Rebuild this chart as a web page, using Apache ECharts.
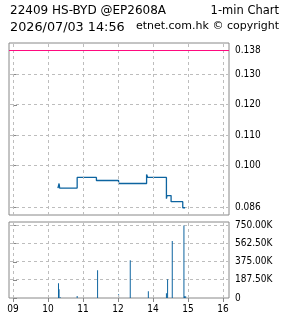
<!DOCTYPE html>
<html><head><meta charset="utf-8">
<script src="https://cdn.jsdelivr.net/npm/echarts@6/dist/echarts.min.js"></script>
<style>html,body{margin:0;padding:0;background:#fff}#c{width:285px;height:318px}</style>
</head><body><div id="c"></div>
<script>
// ---- data ----
var priceTimes  = ['10:17','10:19','10:20','10:50','11:23','13:01','13:49','13:51','14:23','14:24','14:31','14:51','14:55'];
var priceValues = [0.0925, 0.094, 0.0925, 0.096, 0.095, 0.094, 0.097, 0.096, 0.089, 0.090, 0.088, 0.086, 0.086];
var volTimes  = ['10:18','10:19','10:21','10:50','11:25','13:01','13:21','13:52','14:23','14:25','14:33','14:53','14:54','14:56'];
var volValues = [152000, 90000, 7000, 21000, 287000, 38000, 391000, 69000, 49000, 194000, 591000, 750000, 18000, 18000];
var prevClose = 0.138;
var priceTicks = [0.086, 0.100, 0.110, 0.120, 0.130, 0.138];
var volTicks = [0, 187500, 375000, 562500, 750000];
var hourTicks = [9, 10, 11, 12, 14, 15, 16];
var titleLeft1 = '22409 HS-BYD @EP2608A', titleRight1 = '1-min Chart';
var titleLeft2 = '2026/07/03 14:56', titleRight2 = 'etnet.com.hk \u00a9 copyright';

// trading-session index (lunch hour 12-13 removed)
function hourIdx(h){ return (h >= 13 ? h - 1 : h) - 9; }
function toIdx(t){ var p = t.split(':'); var h = +p[0], m = +p[1]; return hourIdx(h) + m / 60; }
var tickIdx = hourTicks.map(hourIdx);
var idxToLabel = {}; hourTicks.forEach(function(h){ idxToLabel[hourIdx(h)] = (h < 10 ? '0' : '') + h; });

var priceData = priceTimes.map(function(t, i){ return [toIdx(t), priceValues[i]]; });
var volData = volTimes.map(function(t, i){ return [toIdx(t), volValues[i]]; });

var X_MIN = -0.114, X_MAX = 6.171;
var P_MIN = 0.0836, P_MAX = 0.1404;
var V_MIN = 0, V_MAX = 787000;
var FONT = 'DejaVu Sans';
var AXFONT = '"DejaVu Sans Condensed", "DejaVu Sans"';
var BLUE = '#0d64a0';
var GRID = '#bdbdbd';
function dashed(){ return {color: GRID, type: [3, 3], width: 1}; }
function vLines(){ return tickIdx.map(function(v){ return {xAxis: v, lineStyle: dashed()}; }); }

var chart = echarts.init(document.getElementById('c'), null, {renderer: 'canvas'});
var xBase = {
  type: 'value', min: X_MIN, max: X_MAX,
  axisLine: {show: false},
  axisTick: {customValues: tickIdx, length: 4, lineStyle: {color: '#888'}},
  axisLabel: {customValues: tickIdx, fontFamily: AXFONT, fontSize: 10, color: '#000', margin: 6,
    formatter: function(v){ return idxToLabel[Math.round(v)] || ''; }},
  splitLine: {show: false}
};
var mlBase = {silent: true, symbol: ['none', 'none'], label: {show: false}, precision: 6, animation: false};

chart.setOption({
  animation: false,
  textStyle: {fontFamily: FONT},
  grid: [
    {left: 9, right: 56, top: 43, height: 172, show: true, borderColor: '#888', borderWidth: 1, backgroundColor: 'transparent'},
    {left: 9, right: 56, top: 222, height: 76, show: true, borderColor: '#888', borderWidth: 1, backgroundColor: 'transparent'}
  ],
  xAxis: [
    Object.assign({}, xBase, {gridIndex: 0, axisTick: {show: false}, axisLabel: {show: false}}),
    Object.assign({}, xBase, {gridIndex: 1})
  ],
  yAxis: [
    {type: 'value', gridIndex: 0, position: 'right', min: P_MIN, max: P_MAX,
      axisLine: {show: false},
      axisTick: {show: true, customValues: priceTicks, length: 4, lineStyle: {color: '#888'}},
      axisLabel: {customValues: priceTicks, fontFamily: AXFONT, fontSize: 10, color: '#000', margin: 6,
        formatter: function(v){ return v.toFixed(3); }},
      splitLine: {show: false}},
    {type: 'value', gridIndex: 1, position: 'right', min: V_MIN, max: V_MAX,
      axisLine: {show: false},
      axisTick: {show: true, customValues: volTicks, length: 4, lineStyle: {color: '#888'}},
      axisLabel: {customValues: volTicks, fontFamily: AXFONT, fontSize: 10, color: '#000', margin: 6,
        formatter: function(v){ return v === 0 ? '0' : (v / 1000).toFixed(2) + 'K'; }},
      splitLine: {show: false}}
  ],
  series: [
    {type: 'line', xAxisIndex: 0, yAxisIndex: 0, data: [], z: 1,
      markLine: Object.assign({}, mlBase, {data: vLines()})},
    {type: 'line', xAxisIndex: 1, yAxisIndex: 1, data: [], z: 1,
      markLine: Object.assign({}, mlBase, {data: vLines()})},
    {type: 'line', xAxisIndex: 0, yAxisIndex: 0, data: priceData, step: 'end', showSymbol: false, z: 3,
      lineStyle: {color: BLUE, width: 1.3}, itemStyle: {color: BLUE},
      markLine: Object.assign({}, mlBase, {
        data: [{yAxis: prevClose, lineStyle: {color: '#ff0a7f', type: 'solid', width: 1.2}}]})},
    {type: 'bar', xAxisIndex: 1, yAxisIndex: 1, data: volData, barWidth: 1, z: 3,
      itemStyle: {color: BLUE}}
  ]
});

// horizontal dashed grid lines placed through the chart's own axis scales
function hDashes(vals, axisIdx){
  var out = [];
  var x0 = chart.convertToPixel({xAxisIndex: axisIdx}, X_MIN);
  var x1 = chart.convertToPixel({xAxisIndex: axisIdx}, X_MAX);
  vals.forEach(function(v){
    var y = Math.floor(chart.convertToPixel({yAxisIndex: axisIdx}, v));
    for (var x = Math.round(x0) + 1; x < x1 - 1; x += 6) {
      out.push({type: 'rect', silent: true, z: 1,
        shape: {x: x, y: y, width: Math.min(3, x1 - 1 - x), height: 1},
        style: {fill: GRID}});
    }
  });
  return out;
}
var gfx = [
  {type: 'text', left: 10, top: 5, style: {text: titleLeft1, fontFamily: FONT, fontSize: 12, fill: '#000'}},
  {type: 'text', right: 6, top: 5, style: {text: titleRight1, fontFamily: FONT, fontSize: 11.5, fill: '#000'}},
  {type: 'text', left: 10, top: 21, style: {text: titleLeft2, fontFamily: FONT, fontSize: 12.8, fill: '#000'}},
  {type: 'text', right: 6, top: 21, style: {text: titleRight2, fontFamily: FONT, fontSize: 11, fill: '#000'}}
].concat(hDashes(priceTicks.slice(0, 5), 0), hDashes(volTicks.slice(1), 1));
chart.setOption({graphic: gfx});
</script></body></html>
